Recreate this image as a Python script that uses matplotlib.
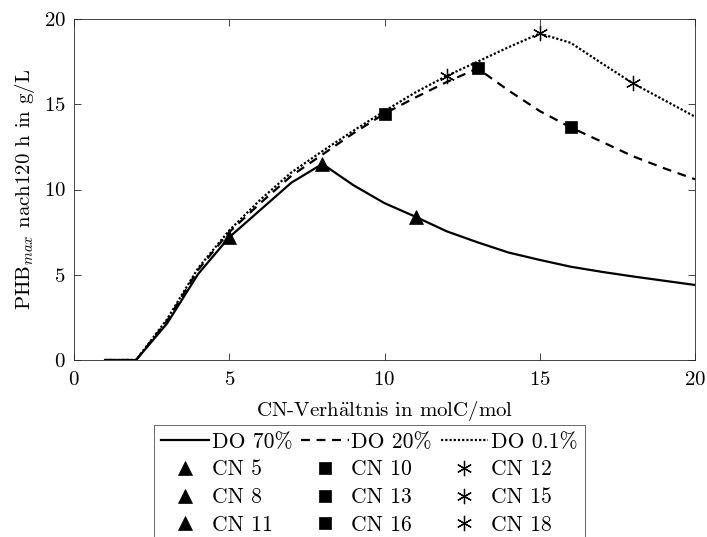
import matplotlib
matplotlib.use("Agg")
import matplotlib.pyplot as plt

plt.rcParams['font.family'] = 'serif'
plt.rcParams['font.serif'] = ['cmr10']
plt.rcParams['mathtext.fontset'] = 'cm'
plt.rcParams['axes.formatter.use_mathtext'] = True

cn = list(range(1, 21))
do70 = [0, 0, 2.15, 5.05, 7.2, 8.8, 10.4, 11.5, 10.25, 9.2, 8.4, 7.55, 6.9, 6.3, 5.87, 5.47, 5.17, 4.9, 4.65, 4.4]
do20 = [0, 0, 2.3, 5.3, 7.5, 9.2, 10.8, 12.05, 13.3, 14.45, 15.4, 16.3, 17.1, 15.8, 14.6, 13.64, 12.8, 11.95, 11.25, 10.6]
do01 = [0, 0, 2.4, 5.4, 7.6, 9.4, 11.0, 12.25, 13.45, 14.6, 15.7, 16.66, 17.5, 18.35, 19.15, 18.6, 17.4, 16.23, 15.25, 14.27]

line_labels = ['DO 70%', 'DO 20%', 'DO 0.1%']
marker_cn = [[5, 8, 11], [10, 13, 16], [12, 15, 18]]
xticks = [0, 5, 10, 15, 20]
yticks = [0, 5, 10, 15, 20]

fig = plt.figure(figsize=(7.07, 5.37), dpi=100)
ax = fig.add_axes([74/707, 1-360/537, (695-74)/707, (360-19)/537])

series = [do70, do20, do01]
styles = ['-', (0, (4, 3)), (0, (1, 0.9))]
markers = ['^', 's', (6, 2, 0)]
msizes = [10, 8, 11]

handles = []
for s, ls, mk, ms, lab, cns in zip(series, styles, markers, msizes, line_labels, marker_cn):
    h, = ax.plot(cn, s, color='black', lw=1.6, linestyle=ls, label=lab)
    handles.append(h)
    for c in cns:
        mh, = ax.plot([c], [s[cn.index(c)]], linestyle='none', marker=mk, color='black',
                      markersize=ms, markeredgewidth=0.9 if mk == markers[2] else 0.5,
                      label='CN %d' % c)
        handles.append(mh)

ax.set_xlim(0, 20)
ax.set_ylim(0, 20)
ax.set_xticks(xticks)
ax.set_yticks(yticks)
ax.tick_params(direction='in', top=True, right=True, length=5, width=0.6,
               color='#262626', labelsize=15)
ax.tick_params(axis='x', pad=8)
ax.tick_params(axis='y', pad=6)
for sp in ax.spines.values():
    sp.set_linewidth(0.6)
    sp.set_color('#262626')

ax.set_xlabel('CN-Verh$\\ddot{\\mathrm{a}}$ltnis in molC/mol', fontsize=15, labelpad=7)
ax.set_ylabel('PHB$_{max}$ nach120 h in g/L', fontsize=15, labelpad=5)

leg = fig.legend(handles=handles, ncol=3, loc='upper center',
                 bbox_to_anchor=(369.5/707, 1-425/537), fontsize=15.6,
                 frameon=True, fancybox=False, edgecolor='#262626',
                 handlelength=2.2, handletextpad=0.12, columnspacing=0.4,
                 labelspacing=0.38, borderpad=0.33, borderaxespad=0)
leg.get_frame().set_linewidth(0.6)

fig.savefig('out.png', dpi=100)
